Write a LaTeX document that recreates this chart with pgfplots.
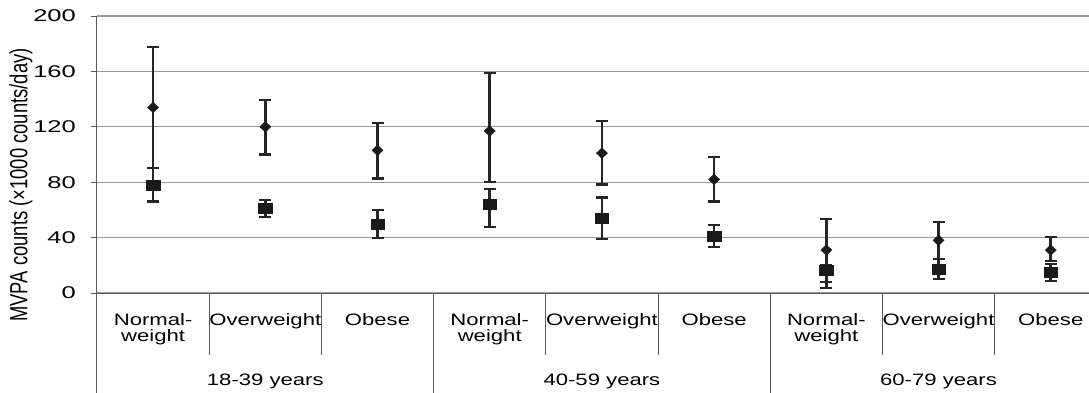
\documentclass[border=0pt]{standalone}
\usepackage{pgfplots}
\usepackage{pgfplotstable}
\pgfplotsset{compat=1.18}
\usepackage{fontspec}
\usepackage{graphicx}
\setmainfont{Liberation Sans}[FakeStretch=1.34]
\newfontfamily\tickfont{Liberation Sans}[FakeStretch=1.5]
\newfontfamily\plainfont{Liberation Sans}
\definecolor{mk}{HTML}{1A1A1A}
\definecolor{eb}{HTML}{262626}
\definecolor{ax}{HTML}{5A5A5A}
\definecolor{gr}{HTML}{9A9A9A}

\pgfplotstableread{
x y ep em
0 134 43.5 44
1 120 19.6 20
2 103 19.7 20.3
3 117 42 37
4 101 23 22.6
5 82 16.3 15.9
6 31 22.5 22.8
7 38 13.3 13.4
8 31 9.5 7.8
}\diamonddata

\pgfplotstableread{
x y ep em
0 78 12 12
1 61 6 6
2 50 10 10
3 64 11 16.3
4 54 15 15
5 41 8 8
6 16.2 3.8 12.6
7 17.4 7.2 7.5
8 15.2 5.6 6.5
}\squaredata

\begin{document}
\begin{tikzpicture}
\path[use as bounding box] (-97pt,-99pt) rectangle (992pt,293pt);
\begin{axis}[
  at={(0,0)}, anchor=south west,
  scale only axis, width=992pt, height=277pt,
  xmin=-0.5, xmax=8.341, ymin=0, ymax=200,
  axis x line=bottom, axis y line=left,
  axis line style={-, draw=ax, line width=1pt},
  ytick={0,40,...,200},
  ymajorgrids, grid style={gr, line width=1.2pt},
  tick align=outside, major tick length=6pt,
  ytick style={draw=ax, line width=1pt},
  xtick={0,...,8},
  xticklabels={{Normal-\\weight},Overweight,Obese,{Normal-\\weight},Overweight,Obese,{Normal-\\weight},Overweight,Obese},
  xtick style={draw=none},
  xticklabel style={font=\fontsize{16.5}{16}\selectfont, align=center, anchor=north, inner sep=0pt, yshift=-14pt},
  yticklabel style={font=\fontsize{17}{17}\tickfont, anchor=east, inner sep=0pt, xshift=-15pt},
  /pgf/number format/assume math mode=true,
  every error bar/.append style={line width=2.6pt, draw=eb},
  clip=false,
]
\addplot[only marks, mark=diamond*, mark size=5.3pt, mark options={xscale=1.4, fill=mk, draw=mk},
  error bars/.cd, y dir=both, y explicit,
  error bar style={draw=eb, line width=2.6pt},
  error mark options={draw=eb, line width=2.2pt, mark size=6pt, rotate=90}]
  table[x=x, y=y, y error plus=ep, y error minus=em] {\diamonddata};
\addplot[only marks, mark=square*, mark size=5pt, mark options={xscale=1.35, fill=mk, draw=mk},
  error bars/.cd, y dir=both, y explicit,
  error bar style={draw=eb, line width=2.6pt},
  error mark options={draw=eb, line width=2.2pt, mark size=6pt, rotate=90}]
  table[x=x, y=y, y error plus=ep, y error minus=em] {\squaredata};
% separators
\draw[ax, line width=1pt] (axis cs:0.5,0) -- ++(0pt,-62pt);
\draw[ax, line width=1pt] (axis cs:1.5,0) -- ++(0pt,-62pt);
\draw[ax, line width=1pt] (axis cs:3.5,0) -- ++(0pt,-62pt);
\draw[ax, line width=1pt] (axis cs:4.5,0) -- ++(0pt,-62pt);
\draw[ax, line width=1pt] (axis cs:6.5,0) -- ++(0pt,-62pt);
\draw[ax, line width=1pt] (axis cs:7.5,0) -- ++(0pt,-62pt);
\draw[ax, line width=1pt] (axis cs:-0.5,0) -- ++(0pt,-102pt);
\draw[ax, line width=1pt] (axis cs:2.5,0) -- ++(0pt,-102pt);
\draw[ax, line width=1pt] (axis cs:5.5,0) -- ++(0pt,-102pt);
\node[anchor=base, font=\fontsize{16.5}{16}\selectfont, yshift=-92pt] at (axis cs:1,0) {18-39 years};
\node[anchor=base, font=\fontsize{16.5}{16}\selectfont, yshift=-92pt] at (axis cs:4,0) {40-59 years};
\node[anchor=base, font=\fontsize{16.5}{16}\selectfont, yshift=-92pt] at (axis cs:7,0) {60-79 years};
\end{axis}
\node[rotate=90, font=\fontsize{18.4}{20}\plainfont, inner sep=0pt] at (-76pt,108pt) {\scalebox{1}[1.35]{MVPA counts (×1000 counts/day)}};
\end{tikzpicture}
\end{document}
